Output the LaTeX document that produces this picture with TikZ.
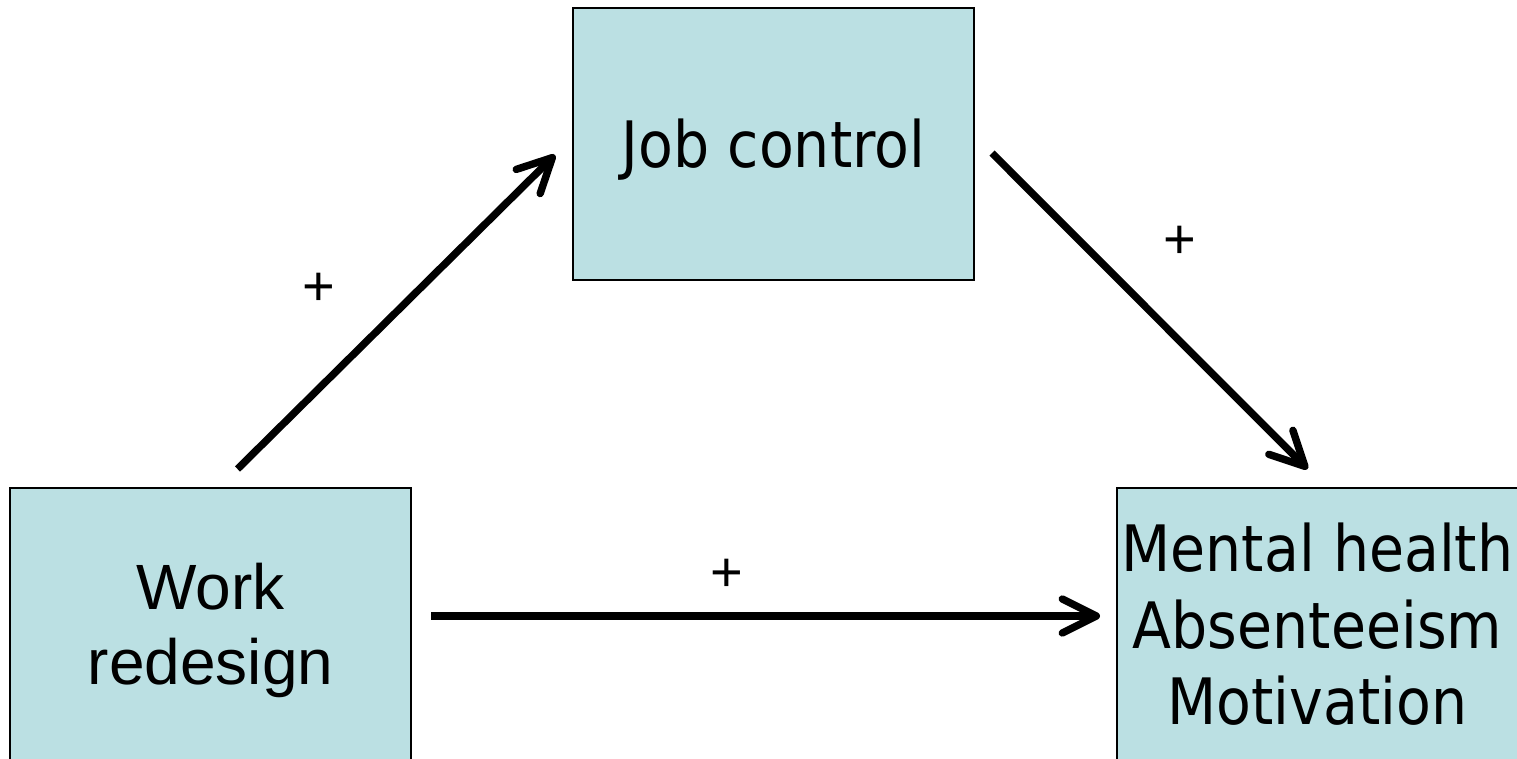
\documentclass[tikz,border=0pt]{standalone}
\usepackage{fontspec}
\setmainfont{Liberation Sans}
\newfontfamily\boxfont[FakeStretch=0.89]{DejaVu Sans}
\usepackage{tikz}
\usetikzlibrary{arrows.meta}
\definecolor{boxfill}{RGB}{187,224,227}

\begin{document}
\begin{tikzpicture}[x=0.5pt,y=-0.5pt,
    every node/.style={inner sep=0pt},
    factor/.style={draw=black,line width=1pt,fill=boxfill,rectangle,
        minimum width=200.5pt,minimum height=136pt,align=center,text depth=0pt},
    link/.style={line width=3.7pt,-{Straight Barb[length=17pt,width=17pt,round]}},
    sign/.style={font=\fontsize{28}{30}\selectfont}]
                \useasboundingbox (0,0) rectangle (1517,759);
                \node[factor,text height=23.3pt,font=\boxfont\fontsize{32}{38}\selectfont] (jc) at (773.5,144) {Job control};
                \node[factor,font=\fontsize{32}{37.5}\selectfont] (wr) at (210.5,624) {Work\\redesign};
                \node[factor,font=\boxfont\fontsize{32}{38.2}\selectfont] (mh) at (1317.5,624) {Mental health\\Absenteeism\\Motivation};

                \draw[link] ([shift={(27,-18)}]wr.north) -- ([shift={(-17,11)}]jc.west);
                \draw[link] ([shift={(17,9)}]jc.east) -- ([shift={(-10,-18)}]mh.north);
                \draw[link] ([shift={(19,-8)}]wr.east) -- ([shift={(-16,-8)}]mh.west);

                \node[sign] (p1) at (319,289) {+};
                \node[sign] (p2) at (1180,242) {+};
                \node[sign] (p3) at (727,575) {+};
            \end{tikzpicture}
\end{document}
